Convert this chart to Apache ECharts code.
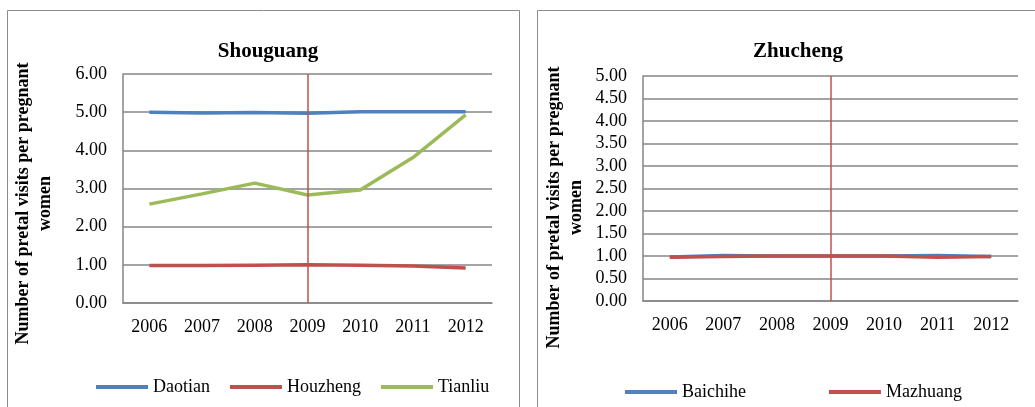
<!DOCTYPE html>
<html><head><meta charset="utf-8">
<script src="https://cdn.jsdelivr.net/npm/echarts@6/dist/echarts.min.js"></script>
<style>html,body{margin:0;padding:0;background:#fff;}#c{width:1035px;height:407px;}</style>
</head><body><div id="c"></div>
<script>
const years = ['2006','2007','2008','2009','2010','2011','2012'];
const daotian  = [5.00, 4.98, 4.99, 4.97, 5.01, 5.01, 5.01];
const houzheng = [0.98, 0.98, 0.99, 1.00, 0.99, 0.97, 0.92];
const tianliu  = [2.59, 2.86, 3.14, 2.83, 2.96, 3.81, 4.93];
const baichihe = [0.98, 1.01, 1.00, 1.00, 1.00, 1.01, 0.99];
const mazhuang = [0.97, 0.99, 1.00, 1.00, 1.00, 0.97, 0.99];
const titleLeft = 'Shouguang', titleRight = 'Zhucheng';
const yName = 'Number of pretal visits per pregnant\nwomen';
const markYear = '2009';

const F = 'Liberation Serif, Times New Roman, serif';
const BLUE = '#4F81BD', RED = '#C0504D', GREEN = '#9BBB59', GRID = '#868686';
const chart = echarts.init(document.getElementById('c'));
function xAx(i){return {type:'category',gridIndex:i,data:years,boundaryGap:true,
  axisLine:{lineStyle:{color:GRID,width:1.5}},axisTick:{show:false},
  axisLabel:{color:'#000',fontFamily:F,fontSize:18,margin:15}};}
function yAx(i,max,interval,pad,gap){return {type:'value',gridIndex:i,min:0,max:max,interval:interval,
  name:yName,nameLocation:'middle',nameGap:gap,nameRotate:90,
  nameTextStyle:{color:'#000',fontFamily:F,fontSize:18,fontWeight:'bold',lineHeight:22,align:'center',padding:[0,pad,0,0]},
  axisLine:{show:true,lineStyle:{color:GRID,width:1.5}},axisTick:{show:false},
  splitLine:{lineStyle:{color:GRID,width:1.5}},
  axisLabel:{color:'#000',fontFamily:F,fontSize:18,margin:16,formatter:v=>v.toFixed(2)}};}
function ser(name,data,color,i,mark){const s={name:name,type:'line',data:data,xAxisIndex:i,yAxisIndex:i,
  symbol:'none',lineStyle:{color:color,width:3.5},itemStyle:{color:color},silent:true,animation:false};
  if(mark){s.markLine={silent:true,symbol:'none',label:{show:false},lineStyle:{color:RED,width:1.5,type:'solid'},data:[{xAxis:markYear}]};}
  return s;}
chart.setOption({
  backgroundColor:'#fff',animation:false,
  title:[{text:titleLeft,left:263,top:36,textAlign:'center',textStyle:{fontFamily:F,fontSize:21,fontWeight:'bold',color:'#000'}},
         {text:titleRight,left:793,top:36,textAlign:'center',textStyle:{fontFamily:F,fontSize:21,fontWeight:'bold',color:'#000'}}],
  graphic:[{type:'rect',shape:{x:7.5,y:10.5,width:512,height:420},style:{fill:'none',stroke:'#8c8c8c',lineWidth:1}},
           {type:'rect',shape:{x:537.5,y:10.5,width:520,height:420},style:{fill:'none',stroke:'#8c8c8c',lineWidth:1}}],
  grid:[{left:123,top:74,width:369,height:229},{left:643,top:76,width:375,height:225}],
  xAxis:[xAx(0),xAx(1)],
  yAxis:[yAx(0,6,1,30,67),yAx(1,5,0.5,38,56)],
  legend:[{data:['Daotian','Houzheng','Tianliu'],left:91,top:373,itemWidth:52,itemHeight:4,itemGap:20,icon:'rect',
           textStyle:{fontFamily:F,fontSize:18,color:'#000'}},
          {data:['Baichihe','Mazhuang'],left:620,top:378,itemWidth:52,itemHeight:4,itemGap:83,icon:'rect',
           textStyle:{fontFamily:F,fontSize:18,color:'#000'}}],
  series:[ser('Daotian',daotian,BLUE,0,true),ser('Houzheng',houzheng,RED,0),ser('Tianliu',tianliu,GREEN,0),
          ser('Baichihe',baichihe,BLUE,1,true),ser('Mazhuang',mazhuang,RED,1)]
});
</script></body></html>
